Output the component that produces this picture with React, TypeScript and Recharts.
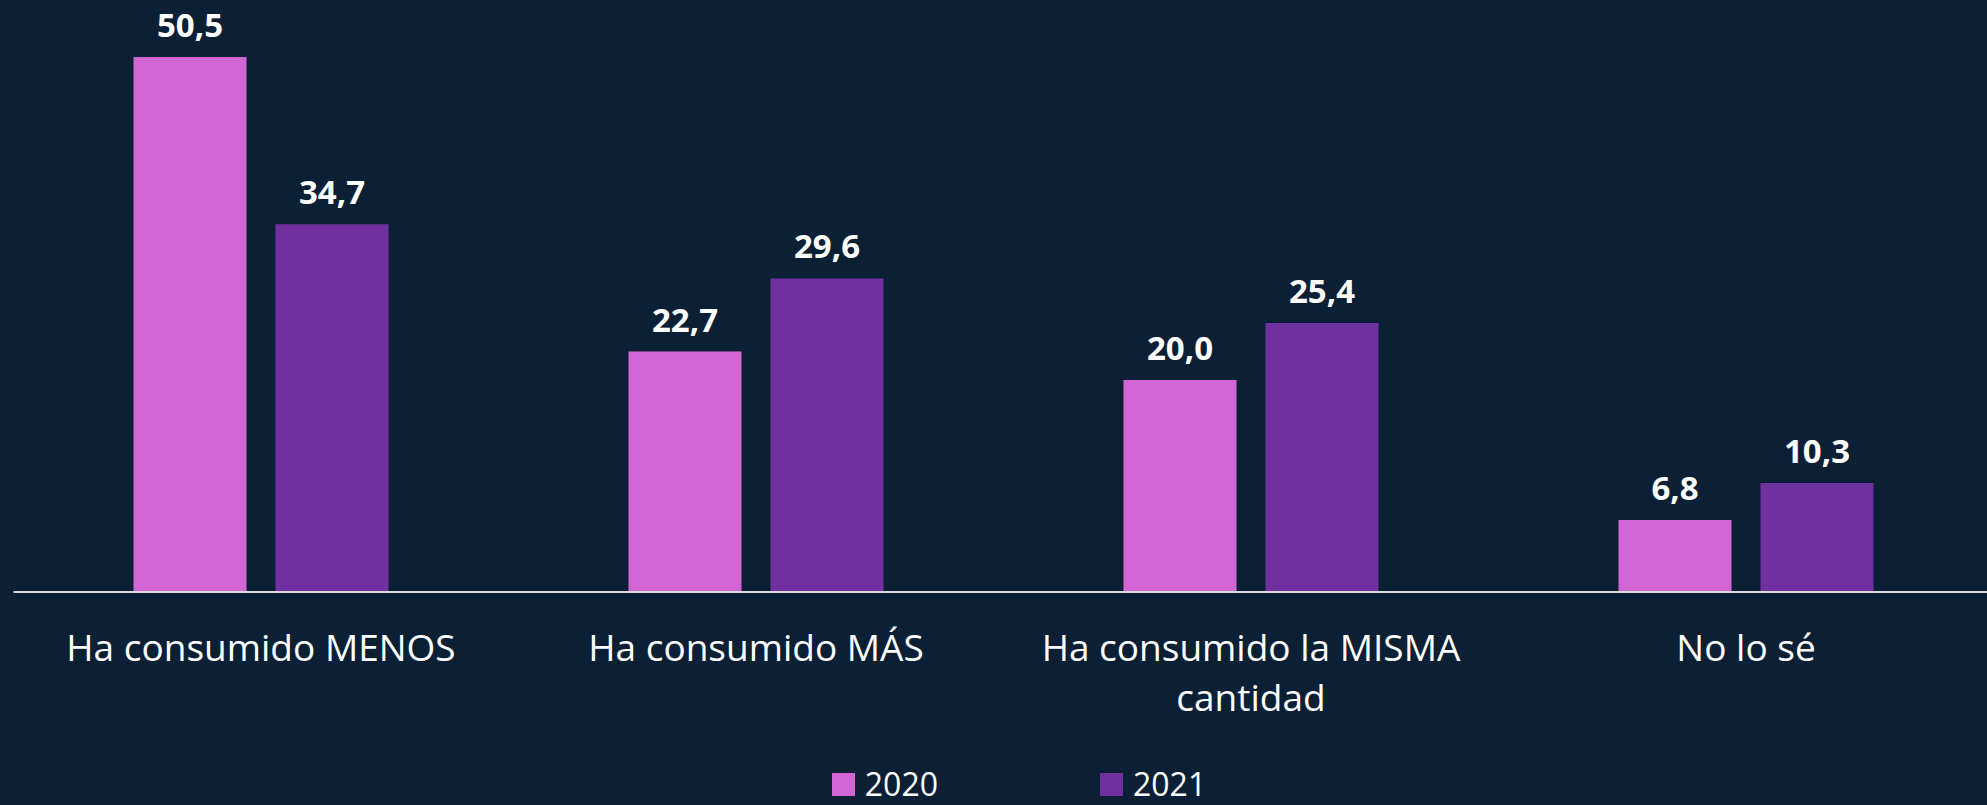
import { BarChart, Bar, XAxis, YAxis, Legend, LabelList } from 'recharts'

const categories = ['Ha consumido MENOS', 'Ha consumido MÁS', 'Ha consumido la MISMA\ncantidad', 'No lo sé']
const values2020 = [50.5, 22.7, 20.0, 6.8]
const values2021 = [34.7, 29.6, 25.4, 10.3]
const seriesNames = ['2020', '2021']
const colors = ['#D366D5', '#70309F']

const data = categories.map((name, i) => ({ name, v2020: values2020[i], v2021: values2021[i] }))

const fmt = (v: any) => Number(v).toFixed(1).replace('.', ',')

function CategoryTick({ x, y, payload }: any) {
  const lines = String(payload.value).split('\n')
  return (
    <text x={x} y={y} textAnchor="middle" fill="#fff" fontSize={37} fontFamily="'Open Sans'">
      {lines.map((l, i) => (
        <tspan key={i} x={x} dy={i === 0 ? 69 : 50}>{l}</tspan>
      ))}
    </text>
  )
}

function LegendBox() {
  return (
    <div style={{ width: 1987, height: 60, display: 'flex', justifyContent: 'center', alignItems: 'center', paddingLeft: 51, boxSizing: 'border-box', gap: 162 }}>
      {seriesNames.map((s, i) => (
        <div key={s} style={{ display: 'flex', alignItems: 'center', paddingTop: 18 }}>
          <span style={{ width: 23, height: 23, background: colors[i], marginRight: 10, display: 'inline-block' }} />
          <span style={{ color: '#fff', fontSize: 32, lineHeight: 1, fontFamily: "'Open Sans'" }}>{s}</span>
        </div>
      ))}
    </div>
  )
}

export default function App() {
  return (
    <div style={{ position: 'absolute', left: 0, top: 0, width: 1987, height: 805, background: '#0B2035', fontFamily: "'Open Sans'" }}>
      <BarChart width={1987} height={805} data={data} barSize={113} barGap={29}
        margin={{ top: 9.3, right: -6.5, left: 13.5, bottom: 0 }}>
        <XAxis dataKey="name" height={153} tickSize={0} tickMargin={0} tickLine={false}
          axisLine={{ stroke: '#D9D9D9', strokeWidth: 2 }} tick={<CategoryTick />} interval={0} />
        <YAxis hide domain={[0, 55]} />
        <Legend verticalAlign="bottom" content={<LegendBox />} wrapperStyle={{ left: 0, bottom: 0, width: 1987, height: 60 }} />
        {seriesNames.map((s, i) => (
          <Bar key={s} dataKey={'v' + s} name={s} fill={colors[i]} isAnimationActive={false}>
            <LabelList dataKey={'v' + s} position="top" offset={20} fill="#fff" fontSize={33}
              fontWeight="bold" fontFamily="'Open Sans'" formatter={fmt} />
          </Bar>
        ))}
      </BarChart>
    </div>
  )
}
